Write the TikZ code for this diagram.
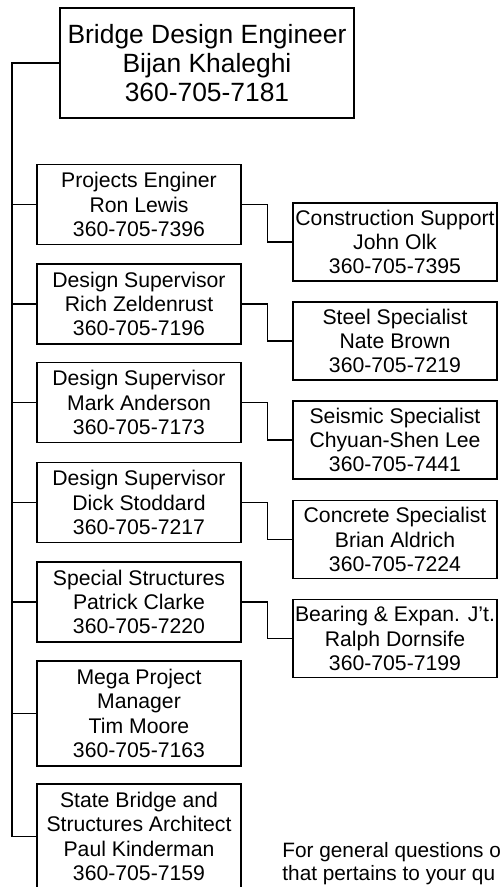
\documentclass[tikz,border=0pt]{standalone}
\usepackage{fontspec}
\setmainfont{Liberation Sans}

\tikzset{
  staff/.style={draw, line width=0.6pt, minimum width=102pt, minimum height=40pt,
    inner sep=0pt, align=center, font=\fontsize{10.6}{12.2}\selectfont},
  spec/.style={staff, minimum height=39pt},
  chief/.style={staff, minimum width=147pt, minimum height=55pt,
    font=\fontsize{13.2}{14.6}\selectfont},
  link/.style={line width=0.6pt}
}

\begin{document}
\begin{tikzpicture}[x=0.5pt, y=-0.5pt]
    \useasboundingbox (0,0) rectangle (500,887);
    \clip (0,0) rectangle (500,887);

    % Head of the office
    \node[chief] (bde) at (207,63) {Bridge Design Engineer\\Bijan Khaleghi\\360-705-7181};

    % Left column
    \node[staff] (proj) at (139,204.5) {Projects Enginer\\Ron Lewis\\360-705-7396};
    \node[staff] (rich) at (139,304) {Design Supervisor\\Rich Zeldenrust\\360-705-7196};
    \node[staff] (mark) at (139,402.5) {Design Supervisor\\Mark Anderson\\360-705-7173};
    \node[staff] (dick) at (139,502.5) {Design Supervisor\\Dick Stoddard\\360-705-7217};
    \node[staff] (spcl) at (139,602) {Special Structures\\Patrick Clarke\\360-705-7220};
    \node[staff, minimum height=52.5pt] (mega) at (139,713.5) {Mega Project\\Manager\\Tim Moore\\360-705-7163};
    \node[staff, minimum height=52.5pt] (arch) at (139,836.5) {State Bridge and\\Structures Architect\\Paul Kinderman\\360-705-7159};

    % Right column
    \node[spec] (cons) at (395,242) {Construction Support\\John Olk\\360-705-7395};
    \node[spec] (steel) at (395,341) {Steel Specialist\\Nate Brown\\360-705-7219};
    \node[spec] (seis) at (395,440) {Seismic Specialist\\Chyuan-Shen Lee\\360-705-7441};
    \node[spec] (conc) at (395,539.5) {Concrete Specialist\\Brian Aldrich\\360-705-7224};
    \node[spec] (bear) at (395,638.5) {Bearing \& Expan. J't.\\Ralph Dornsife\\360-705-7199};

    % Note at the bottom
    \node[anchor=base west, align=left, inner sep=0pt, font=\fontsize{10.4}{11.5}\selectfont]
      (info) at (282,880) {For general questions o\\that pertains to your qu};

    % Bus on the left
    \coordinate (bus) at (12,63);
    \draw[link] (bde.west) -- (bus) -- (bus |- arch.west);
    \draw[link] (bus |- proj.west) -- (proj.west);
    \draw[link] (bus |- rich.west) -- (rich.west);
    \draw[link] (bus |- mark.west) -- (mark.west);
    \draw[link] (bus |- dick.west) -- (dick.west);
    \draw[link] (bus |- spcl.west) -- (spcl.west);
    \draw[link] (bus |- mega.west) -- (mega.west);
    \draw[link] (bus |- arch.west) -- (arch.west);

    % Elbows to the specialists
    \draw[link] (proj.east) -- ++(26,0) |- (cons.west);
    \draw[link] (rich.east) -- ++(26,0) |- (steel.west);
    \draw[link] (mark.east) -- ++(26,0) |- (seis.west);
    \draw[link] (dick.east) -- ++(26,0) |- (conc.west);
    \draw[link] (spcl.east) -- ++(26,0) |- (bear.west);

\end{tikzpicture}
\end{document}
